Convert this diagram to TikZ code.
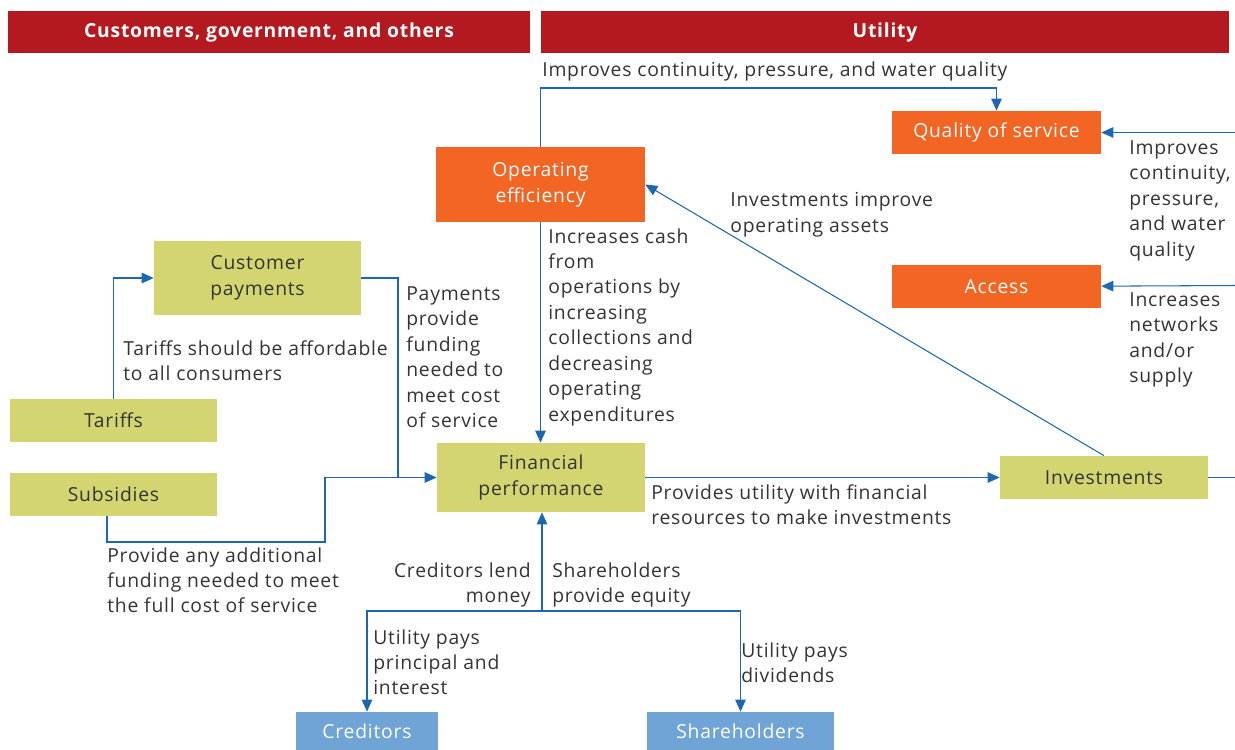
\documentclass[tikz,border=0pt]{standalone}
\usepackage{fontspec}
\setmainfont{Open Sans}[LetterSpace=4]
\usetikzlibrary{arrows.meta, positioning}
\definecolor{barred}{HTML}{B3191F}
\definecolor{drivorange}{HTML}{F26522}
\definecolor{cashgreen}{HTML}{D3D670}
\definecolor{partyblue}{HTML}{70A4D6}
\definecolor{linkblue}{HTML}{1B67B0}
\definecolor{inkgray}{HTML}{333333}
\tikzset{
  header/.style={fill=barred, text=white, font=\bfseries\fontsize{11}{12}\selectfont, minimum height=8.4mm, inner sep=0pt},
  box/.style={align=center, inner sep=0pt, font=\fontsize{11}{14.5}\selectfont, minimum width=4.16cm, minimum height=8.6mm},
  driver/.style={box, fill=drivorange, text=white},
  cash/.style={box, fill=cashgreen, text=inkgray},
  party/.style={box, fill=partyblue, text=white, minimum height=7.6mm},
  note/.style={font=\fontsize{11}{14.5}\selectfont, text=inkgray, align=left, inner sep=0pt, anchor=north west},
  flow/.style={-{Triangle[length=2.4mm, width=2.1mm]}, linkblue, line width=0.6pt},
  link/.style={linkblue, line width=0.6pt},
}
\begin{document}
\begin{tikzpicture}[x=0.02cm, y=-0.02cm]
  \useasboundingbox (0,0) rectangle (1235,750);

  % headers
  \node[header, minimum width=10.44cm] (hcust) at (269,32) {Customers, government, and others};
  \node[header, minimum width=13.76cm] (hutil) at (885,32) {Utility};

  % boxes
  \node[driver, minimum width=4.18cm, minimum height=1.5cm] (opeff) at (540.5,184.5) {Operating\\efficiency};
  \node[driver, minimum width=4.18cm] (quality) at (996.5,132.5) {Quality of service};
  \node[driver, minimum width=4.18cm, below=2.2cm of quality] (access) {Access};
  \node[cash, minimum width=4.14cm, minimum height=1.48cm] (custpay) at (257.5,278) {Customer\\payments};
  \node[cash, minimum width=4.14cm] (tariffs) at (113.5,420.5) {Tariffs};
  \node[cash, minimum width=4.14cm, below=0.6cm of tariffs] (subsid) {Subsidies};
  \node[cash, minimum height=1.38cm] (finperf) at (541,477.5) {Financial\\performance};
  \node[cash] (invest) at (1104,477.5) {Investments};
  \node[party, minimum width=2.84cm] (creditors) at (367,731) {Creditors};
  \node[party, minimum width=3.74cm] (sharehold) at (740.5,731) {Shareholders};

  % bends and free ends
  \coordinate (qline) at (0,88);
  \coordinate (join) at (398,477.5);
  \coordinate (subdrop) at (107,542);
  \coordinate (subbend) at (325,542);
  \coordinate (split) at (542,611);
  \coordinate (rimq) at (1235,132.5);
  \coordinate (rima) at (1235,285.5);
  \coordinate (rimi) at (1235,477.5);

  % connectors
  \draw[flow] (opeff.north) -- (opeff.north |- qline) -| (quality.north);
  \draw[flow] (rimq) -- (quality.east);
  \draw[flow] (rima) -- (access.east);
  \draw[flow] (tariffs.north) |- (custpay.west);
  \draw[link] (custpay.east) -| (join);
  \draw[flow] (subsid.south -| subdrop) -- (subdrop) -- (subbend) |- (finperf.west);
  \draw[flow] (opeff.south) -- (finperf.north -| opeff.south);
  \draw[flow] (finperf.east) -- (invest.west);
  \draw[flow] (invest.north) -- (opeff.east);
  \draw[link] (invest.east) -- (rimi);
  \draw[flow] (split) -- (finperf.south -| split);
  \draw[flow] (split) -| (creditors.north);
  \draw[flow] (split) -| (sharehold.north);

  % labels
  \node[note] (lqual) at (542,61) {Improves continuity, pressure, and water quality};
  \node[note] (lrimq) at (1129,140) {Improves\\continuity,\\pressure,\\and water\\quality};
  \node[note] (lrima) at (1129,292) {Increases\\networks\\and/or\\supply};
  \node[note] (linvop) at (730,192) {Investments improve\\operating assets};
  \node[note] (lcash) at (548,228) {Increases cash\\from\\operations by\\increasing\\collections and\\decreasing\\operating\\expenditures};
  \node[note] (lpay) at (406,286) {Payments\\provide\\funding\\needed to\\meet cost\\of service};
  \node[note] (ltar) at (123,340) {Tariffs should be affordable\\to all consumers};
  \node[note] (lfin) at (651,484) {Provides utility with financial\\resources to make investments};
  \node[note] (lsub) at (107,547) {Provide any additional\\funding needed to meet\\the full cost of service};
  \node[note, anchor=north east, align=right] (llend) at (531,562) {Creditors lend\\money};
  \node[note] (lequity) at (552,562) {Shareholders\\provide equity};
  \node[note] (lprinc) at (373,629) {Utility pays\\principal and\\interest};
  \node[note] (ldiv) at (741,642) {Utility pays\\dividends};
\end{tikzpicture}
\end{document}
